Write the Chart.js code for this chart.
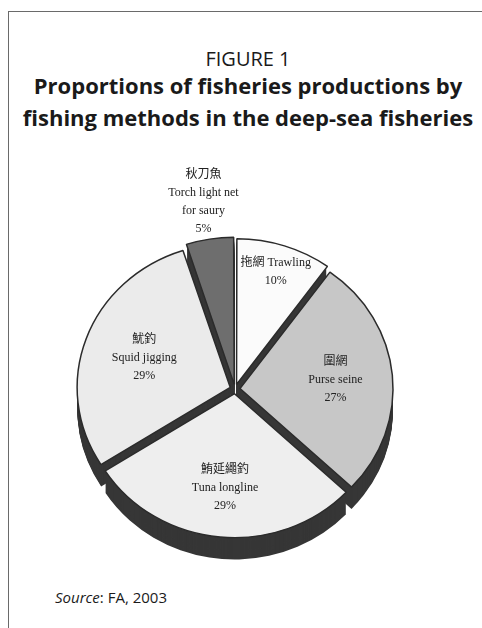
<!DOCTYPE html>
<html>
<head>
<meta charset="utf-8">
<script src="https://cdn.jsdelivr.net/npm/chart.js@4.4.1/dist/chart.umd.min.js"></script>
<style>
  html, body { margin: 0; padding: 0; background: #fff; }
  body { width: 482px; height: 628px; position: relative; overflow: hidden; font-family: 'Open Sans', 'Noto Sans', sans-serif; color: #1a1a1a; }
  #frame { position: absolute; left: 8px; top: 11px; width: 500px; height: 700px; border-left: 1.5px solid #6a6a6a; border-top: 1.5px solid #6a6a6a; }
  .t { position: absolute; left: 9px; width: 478px; text-align: center; line-height: 1; white-space: nowrap; }
  #fig { top: 49px; font-size: 20px; }
  #l1 { top: 74px; font-size: 22px; font-weight: bold; }
  #l2 { top: 106px; font-size: 22px; font-weight: bold; }
  #src { position: absolute; left: 55px; top: 590px; font-size: 15px; line-height: 1; }
  canvas { position: absolute; left: 0; top: 0; }
</style>
</head>
<body>
<div id="frame"></div>
<div class="t" id="fig">FIGURE 1</div>
<div class="t" id="l1">Proportions of fisheries productions by</div>
<div class="t" id="l2">fishing methods in the deep-sea fisheries</div>
<div id="src"><i>Source</i>: FA, 2003</div>
<canvas id="pie" width="482" height="628"></canvas>
<script>
// data (percent of production)
const methodsZh = ['拖網', '圍網', '鮪延繩釣', '魷釣', '秋刀魚'];
const methodsEn = ['Trawling', 'Purse seine', 'Tuna longline', 'Squid jigging', 'Torch light net for saury'];
const shares = [10, 27, 29, 29, 5];
const sliceLabels = [
  ['拖網 Trawling'],
  ['圍網', 'Purse seine'],
  ['鮪延繩釣', 'Tuna longline'],
  ['魷釣', 'Squid jigging'],
  ['秋刀魚', 'Torch light net', 'for saury']
];
const sliceColors = ['#fbfbfb', '#c7c7c7', '#eeeeee', '#ebebeb', '#6e6e6e'];

// fake 3d: squash the pie a bit and extrude a dark copy below it
const tiltPlugin = {
  id: 'tilt',
  beforeDatasetsDraw(chart, args, opts) {
    const ctx = chart.ctx;
    const arcs = chart.getDatasetMeta(0).data;
    if (!arcs.length) return;
    const { x: cx, y: cy } = arcs[0].getProps(['x', 'y'], true);
    ctx.save();
    ctx.translate(cx, cy);
    ctx.scale(1, opts.squash);
    ctx.translate(-cx, -cy);
    ctx.fillStyle = opts.sideColor;
    for (let d = opts.depth; d >= 1; d -= 1) {
      arcs.forEach(a => {
        const p = a.getProps(['x', 'y', 'startAngle', 'endAngle', 'outerRadius'], true);
        const off = (a.options.offset || 0) / 4;
        const half = (p.startAngle + p.endAngle) / 2;
        const ox = p.x + Math.cos(half) * off;
        const oy = p.y + Math.sin(half) * off + d / opts.squash;
        ctx.beginPath();
        ctx.moveTo(ox, oy);
        ctx.arc(ox, oy, p.outerRadius, p.startAngle, p.endAngle);
        ctx.closePath();
        ctx.fill();
      });
    }
  },
  afterDatasetsDraw(chart, args, opts) {
    const ctx = chart.ctx;
    ctx.restore();
    const arcs = chart.getDatasetMeta(0).data;
    ctx.save();
    ctx.fillStyle = '#222';
    ctx.font = "12px 'Liberation Serif', 'Noto Sans CJK TC', serif";
    ctx.textAlign = 'center';
    ctx.textBaseline = 'middle';
    arcs.forEach((a, i) => {
      const p = a.getProps(['x', 'y', 'startAngle', 'endAngle', 'outerRadius'], true);
      const half = (p.startAngle + p.endAngle) / 2;
      const r = p.outerRadius * opts.labelRadius[i];
      const lx = p.x + Math.cos(half) * r;
      const ly = p.y + Math.sin(half) * r * opts.squash;
      const lines = sliceLabels[i].concat(shares[i] + '%');
      const y0 = ly - (lines.length - 1) * opts.lineHeight / 2;
      lines.forEach((t, k) => ctx.fillText(t, lx, y0 + k * opts.lineHeight));
    });
    ctx.restore();
  }
};

new Chart(document.getElementById('pie'), {
  type: 'pie',
  data: {
    labels: methodsEn.map((en, i) => methodsZh[i] + ' ' + en),
    datasets: [{
      data: shares,
      backgroundColor: sliceColors,
      borderColor: '#2b2b2b',
      borderWidth: 1.5,
      offset: 20
    }]
  },
  options: {
    responsive: false,
    animation: false,
    radius: 153,
    layout: { padding: { left: 60, right: 72, top: 200, bottom: 50 } },
    plugins: {
      legend: { display: false },
      tooltip: { enabled: false },
      tilt: {
        squash: 0.94,
        depth: 22,
        sideColor: '#363636',
        lineHeight: 18,
        labelRadius: [0.86, 0.66, 0.69, 0.63, 1.32]
      }
    }
  },
  plugins: [tiltPlugin]
});
</script>
</body>
</html>
